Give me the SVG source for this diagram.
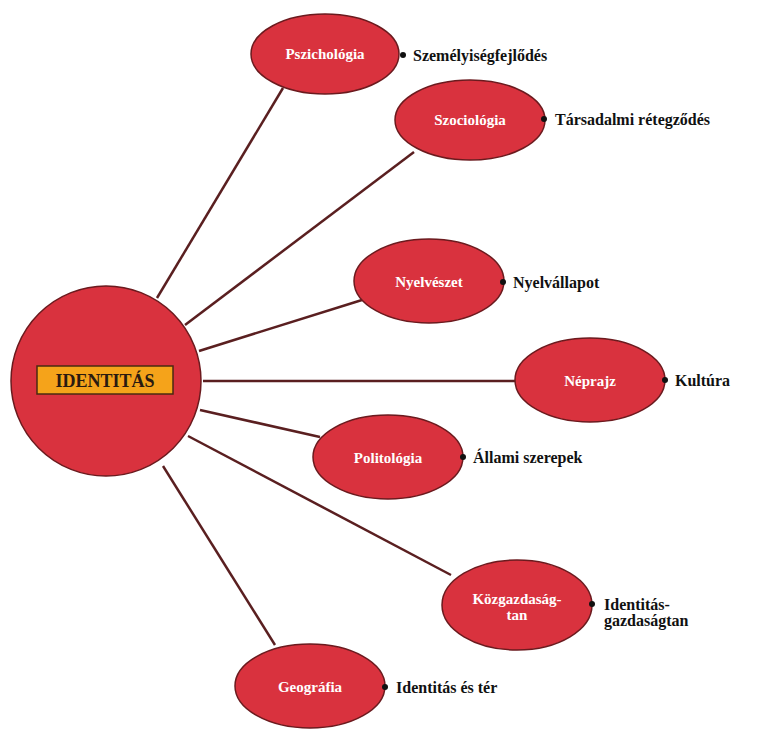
<svg xmlns="http://www.w3.org/2000/svg" width="762" height="739" viewBox="0 0 762 739">
<style>
.n{fill:#d9323e;stroke:#6b1a1e;stroke-width:1.5}
.w{font-family:"Liberation Serif",serif;font-weight:bold;font-size:15px;fill:#fff;text-anchor:middle}
.b{font-family:"Liberation Serif",serif;font-weight:bold;font-size:16px;fill:#111}
.d{fill:#111}
#edges line{stroke:#5a1f20;stroke-width:2.5}
</style>
<rect width="762" height="739" fill="#fff"/>
<g id="edges">
<line x1="157" y1="298" x2="283" y2="88"/>
<line x1="185" y1="325" x2="414" y2="152"/>
<line x1="199" y1="351" x2="362" y2="300"/>
<line x1="203" y1="381" x2="515" y2="381"/>
<line x1="200" y1="410" x2="320" y2="437"/>
<line x1="188" y1="436" x2="451" y2="575"/>
<line x1="163" y1="466" x2="275" y2="645"/>
</g>
<g id="identitas">
<circle class="n" cx="106" cy="381" r="95"/>
<rect x="37" y="366" width="136" height="28" fill="#f5a31a" stroke="#4a2a10" stroke-width="1.5"/>
<text x="105" y="387" font-family="Liberation Serif,serif" font-weight="bold" font-size="18" fill="#2a1a10" text-anchor="middle">IDENTITÁS</text>
</g>
<g id="pszichologia"><ellipse class="n" cx="325" cy="54" rx="74" ry="40"/><text class="w" x="325" y="59">Pszichológia</text><circle class="d" cx="403" cy="55" r="3"/><text class="b" x="413" y="61">Személyiségfejlődés</text></g>
<g id="szociologia"><ellipse class="n" cx="470" cy="120" rx="75" ry="40"/><text class="w" x="470" y="125">Szociológia</text><circle class="d" cx="544" cy="119" r="3"/><text class="b" x="555" y="125">Társadalmi rétegződés</text></g>
<g id="nyelveszet"><ellipse class="n" cx="429" cy="281" rx="75" ry="42"/><text class="w" x="429" y="287">Nyelvészet</text><circle class="d" cx="503" cy="282" r="3"/><text class="b" x="513" y="288">Nyelvállapot</text></g>
<g id="neprajz"><ellipse class="n" cx="590" cy="380" rx="75" ry="42"/><text class="w" x="590" y="386">Néprajz</text><circle class="d" cx="665" cy="380" r="3"/><text class="b" x="675" y="386">Kultúra</text></g>
<g id="politologia"><ellipse class="n" cx="388" cy="457" rx="75" ry="42"/><text class="w" x="388" y="463">Politológia</text><circle class="d" cx="463" cy="457" r="3"/><text class="b" x="473" y="463">Állami szerepek</text></g>
<g id="kozgazdasagtan"><ellipse class="n" cx="517" cy="605" rx="75" ry="45"/><text class="w" x="517" y="604">Közgazdaság-</text><text class="w" x="517" y="620">tan</text><circle class="d" cx="592" cy="604" r="3"/><text class="b" x="604" y="610">Identitás-</text><text class="b" x="604" y="626">gazdaságtan</text></g>
<g id="geografia"><ellipse class="n" cx="310" cy="686" rx="75" ry="42"/><text class="w" x="310" y="692">Geográfia</text><circle class="d" cx="385" cy="687" r="3"/><text class="b" x="396" y="693">Identitás és tér</text></g>
</svg>
